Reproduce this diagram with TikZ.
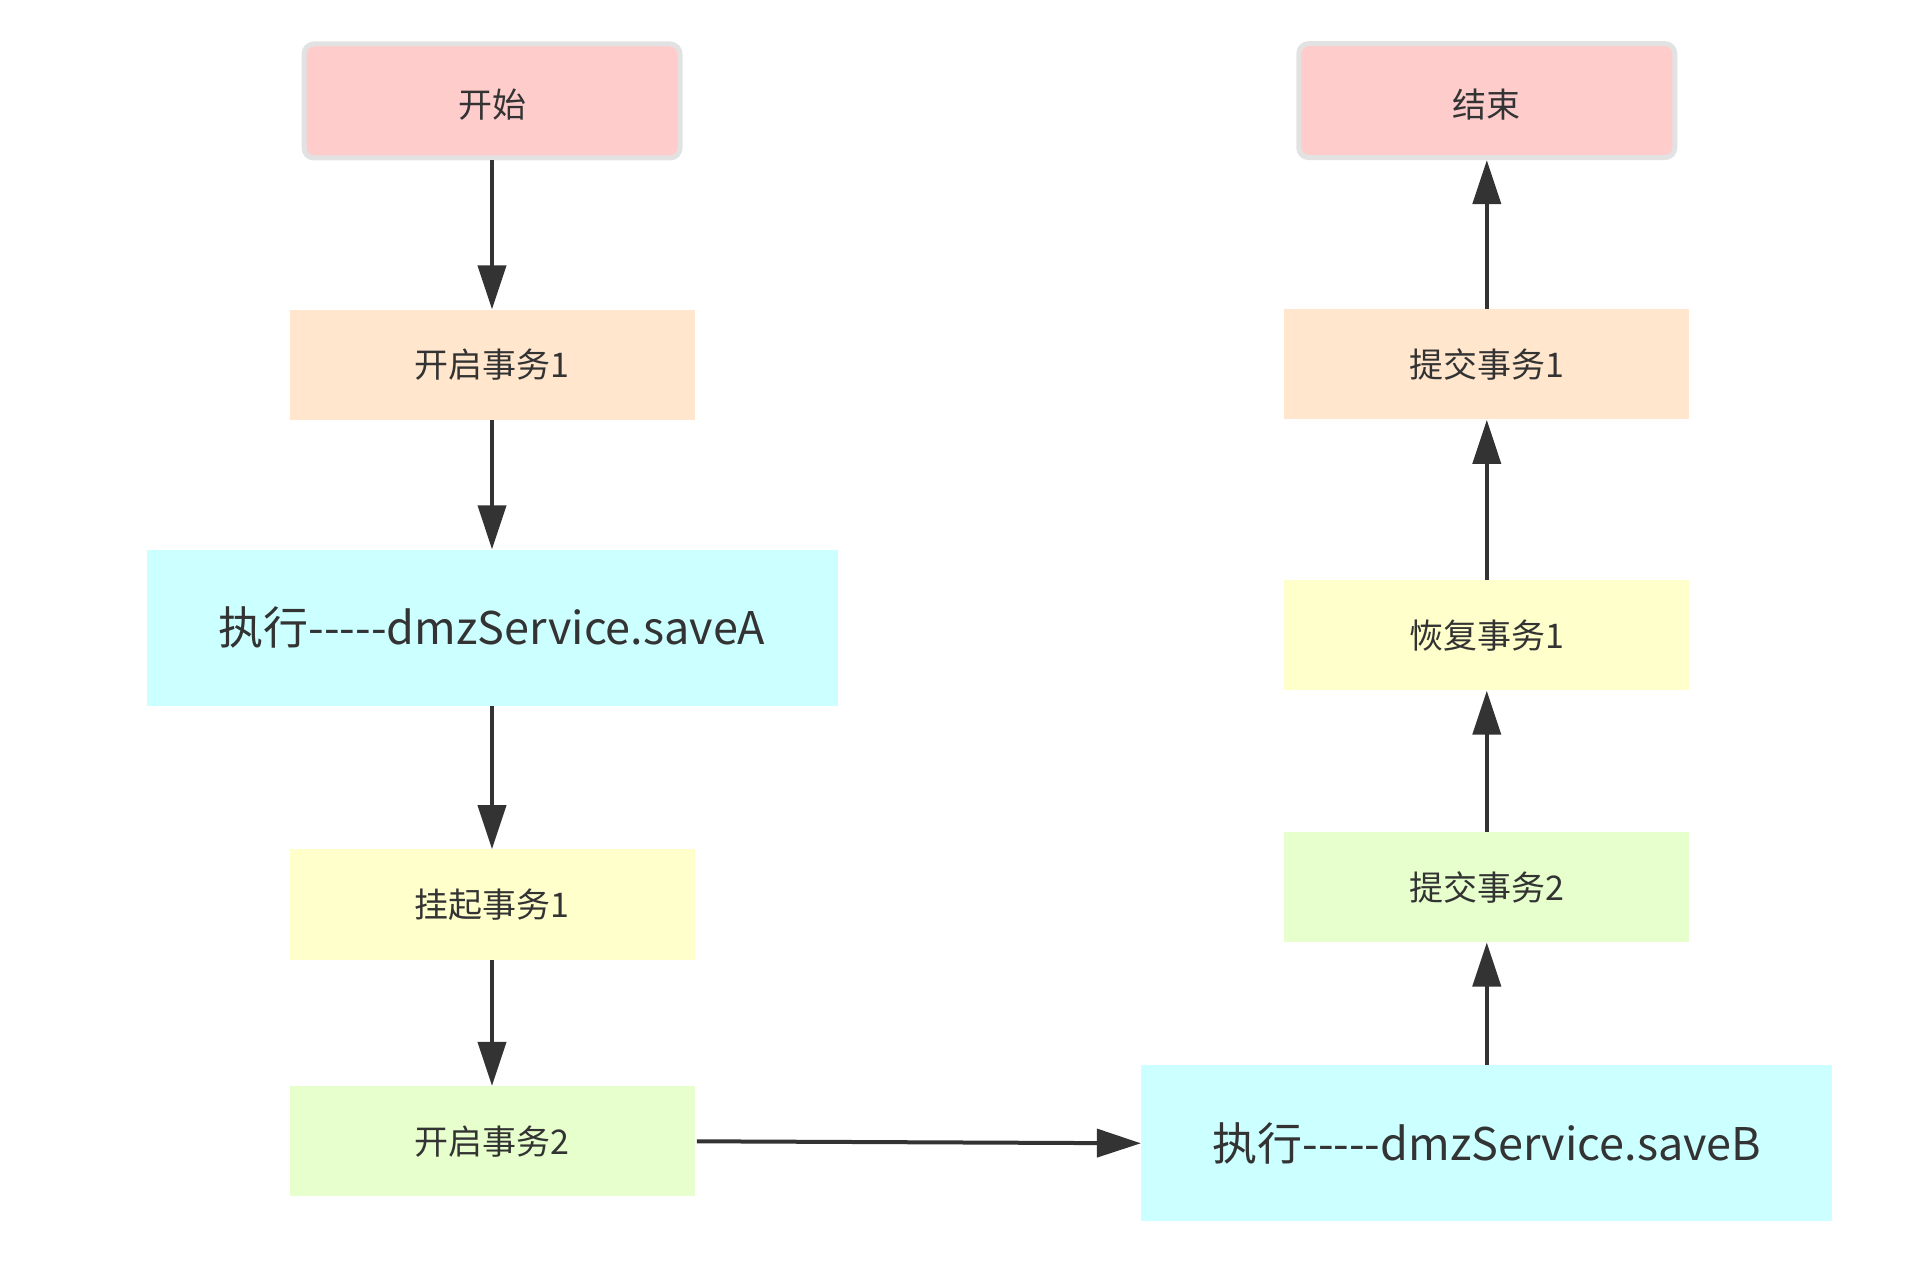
\documentclass[tikz,border=0pt]{standalone}
\usepackage{fontspec}
\setmainfont{Noto Sans CJK SC}[Ligatures=TeXOff]
\usepackage{tikz}
\usetikzlibrary{positioning,arrows.meta}
\definecolor{txtgray}{HTML}{333333}
\definecolor{termfill}{HTML}{FFCCCC}
\definecolor{termline}{HTML}{E2E2E2}
\definecolor{orangefill}{HTML}{FFE6CC}
\definecolor{cyanfill}{HTML}{CCFFFF}
\definecolor{yellowfill}{HTML}{FFFFCC}
\definecolor{greenfill}{HTML}{E6FFCC}

\begin{document}
\begin{tikzpicture}[
    term/.style={rectangle, draw=termline, line width=2.5pt, rounded corners=5pt,
                 fill=termfill, minimum width=188pt, minimum height=57pt,
                 text height=17pt, text depth=0pt,
                 font=\fontsize{17pt}{20pt}\selectfont, text=txtgray},
    block/.style={rectangle, minimum width=202.5pt, minimum height=55pt,
                  font=\fontsize{17pt}{20pt}\selectfont, text=txtgray},
    bigblock/.style={rectangle, fill=cyanfill, minimum width=345.5pt,
                     minimum height=78pt, font=\fontsize{22.5pt}{26pt}\selectfont, text=txtgray},
    arrow/.style={-{Triangle[length=22pt,width=14pt]}, line width=2pt, draw=txtgray}
]
\useasboundingbox (0,0) rectangle (954pt,-636pt);

\node[term] (start) at (246pt,-50.5pt) {开始};
\node[block, fill=orangefill, below=74.5pt of start] (open1) {开启事务1};
\node[bigblock, below=64.5pt of open1] (saveA) {执行-----dmzService.saveA};
\node[block, fill=yellowfill, below=71.5pt of saveA] (hang1) {挂起事务1};
\node[block, fill=greenfill, below=63pt of hang1] (open2) {开启事务2};

\node[bigblock, right=223pt of open2, yshift=-1pt] (saveB) {执行-----dmzService.saveB};
\node[block, fill=greenfill, above=61.2pt of saveB] (commit2) {提交事务2};
\node[block, fill=yellowfill, above=70.5pt of commit2] (resume1) {恢复事务1};
\node[block, fill=orangefill, above=80pt of resume1] (commit1) {提交事务1};
\node[term, above=74.5pt of commit1] (stop) {结束};

\draw[arrow] (start) -- (open1);
\draw[arrow] (open1) -- (saveA);
\draw[arrow] (saveA) -- (hang1);
\draw[arrow] (hang1) -- (open2);
\draw[arrow] ([xshift=1pt]open2.east) -- (saveB.west);
\draw[arrow] (saveB) -- (commit2);
\draw[arrow] (commit2) -- (resume1);
\draw[arrow] (resume1) -- (commit1);
\draw[arrow] (commit1) -- (stop);
\end{tikzpicture}
\end{document}
